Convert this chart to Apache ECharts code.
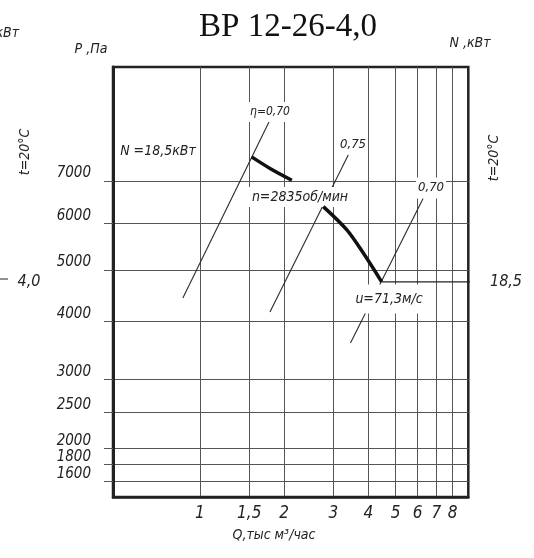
<!DOCTYPE html>
<html><head><meta charset="utf-8">
<script src="https://cdn.jsdelivr.net/npm/echarts@6/dist/echarts.min.js"></script>
<style>html,body{margin:0;padding:0;background:#fff}#c{width:534px;height:558px}</style>
</head><body><div id="c"></div>
<script>
// ---- data (Q in thousand m3/h, P in Pa) ----
const Q_TICKS = [1, 1.5, 2, 3, 4, 5, 6, 7, 8];
const Q_LABELS = ['1', '1,5', '2', '3', '4', '5', '6', '7', '8'];
const P_TICKS = [1600, 1800, 2000, 2500, 3000, 4000, 5000, 6000, 7000];
const Q_RANGE = [0.489, 9.1];
const P_RANGE = [1421, 10050];
// fan curve n=2835 rpm (two segments, gap for label)
const CURVE1_Q = [1.53, 1.78, 2.13];
const CURVE1_P = [7600, 7310, 7020];
const CURVE2_Q = [2.76, 3.35, 3.84, 4.46];
const CURVE2_P = [6390, 5860, 5350, 4760];
// efficiency lines
const ETA070L_Q = [0.869, 1.779], ETA070L_P = [4441, 8562];
const ETA075_Q = [1.779, 3.389], ETA075_P = [4174, 7646];
const ETA070R_Q = [3.451, 6.28], ETA070R_P = [3611, 6584];
// power reference line N = 18,5 kW
const NLINE_Q = [4.46, 9.86], NLINE_P = [4760, 4760];

const FONT = "'Liberation Sans Narrow','DejaVu Sans Condensed','Liberation Sans',sans-serif";
const sq = v => Math.sqrt(v);
const pts = (qs, ps) => qs.map((q, i) => [q, sq(ps[i])]);

const chart = echarts.init(document.getElementById('c'), null, {renderer: 'canvas'});

function txt(text, x, y, size, styleExtra, elExtra) {
  const style = Object.assign({
    text: text, fill: '#222', align: 'center', verticalAlign: 'middle',
    font: 'italic ' + size + 'px ' + FONT
  }, styleExtra || {});
  return Object.assign({type: 'text', x: x, y: y, z: 100, silent: true, style: style}, elExtra || {});
}
function box(text, x, y, size, pad) {
  return txt(text, x, y, size, {backgroundColor: '#fff', padding: pad});
}

const thin = {color: '#2a2a2a', width: 1.1};
const lineSeries = (data, style, clip, smooth, z) => ({
  type: 'line', data: data, symbol: 'none', silent: true, animation: false,
  clip: clip !== false, smooth: smooth || false, lineStyle: style, z: z || 3
});

chart.setOption({
  animation: false,
  backgroundColor: '#fff',
  grid: {left: 113, right: 65.7, top: 67, bottom: 61, show: true, borderColor: '#222', borderWidth: 2.5, containLabel: false},
  xAxis: {
    type: 'log', logBase: 10, min: Q_RANGE[0], max: Q_RANGE[1],
    axisLine: {show: true, lineStyle: {color: '#222', width: 2.5}},
    axisTick: {show: false, customValues: Q_TICKS},
    axisLabel: {
      customValues: Q_TICKS, margin: 8, color: '#222', hideOverlap: false,
      fontSize: 17, fontStyle: 'italic', fontFamily: FONT,
      formatter: v => { const i = Q_TICKS.findIndex(t => Math.abs(t - v) < 1e-6); return i >= 0 ? Q_LABELS[i] : ''; }
    },
    splitLine: {show: true, lineStyle: {color: '#555', width: 1}},
    minorSplitLine: {show: false}
  },
  yAxis: {
    type: 'value', min: sq(P_RANGE[0]), max: sq(P_RANGE[1]),
    axisLine: {show: true, lineStyle: {color: '#222', width: 3}},
    axisTick: {show: true, length: 9, customValues: P_TICKS.map(sq), lineStyle: {color: '#555', width: 1}},
    axisLabel: {
      customValues: P_TICKS.map(sq), margin: 22, color: '#222',
      hideOverlap: false, showMinLabel: true, showMaxLabel: true,
      fontSize: 15, fontStyle: 'italic', fontFamily: FONT, verticalAlign: 'bottom', lineHeight: 15,
      formatter: v => String(Math.round(v * v))
    },
    splitLine: {show: true, lineStyle: {color: '#555', width: 1}}
  },
  series: [
    lineSeries(pts(ETA070L_Q, ETA070L_P), thin),
    lineSeries(pts(ETA075_Q, ETA075_P), thin),
    lineSeries(pts(ETA070R_Q, ETA070R_P), thin),
    lineSeries(pts(NLINE_Q, NLINE_P), {color: '#222', width: 1.2}, false),
    lineSeries(pts(CURVE1_Q, CURVE1_P), {color: '#111', width: 3.5}, true, 0.3, 110),
    lineSeries(pts(CURVE2_Q, CURVE2_P), {color: '#111', width: 3.5}, true, 0.3, 110)
  ],
  graphic: {elements: [
    {type: 'text', x: 288, y: 27, z: 100, silent: true,
     style: {text: 'ВР 12-26-4,0', fill: '#111', align: 'center', verticalAlign: 'middle', font: "33px 'Liberation Serif','Times New Roman',serif"}},
    txt('P ,Па', 91, 49, 14),
    txt('N ,кВт', 470, 43, 14),
    txt('N ,кВт', 19, 33, 14, {align: 'right'}),
    txt('t=20°C', 25, 152, 14, null, {rotation: Math.PI / 2}),
    txt('t=20°C', 494, 158, 14, null, {rotation: Math.PI / 2}),
    txt('N =18,5кВт', 158, 151, 14),
    box('η=0,70', 270, 112, 12, [4, 2, 4, 2]),
    box('0,75', 353, 145, 13, [2, 2, 2, 2]),
    box('n=2835об/мин', 300, 197, 14, [4, 3, 2, 3]),
    box('0,70', 431, 188, 13, [4, 2, 4, 2]),
    box('u=71,3м/с', 389, 299, 14, [8, 5, 7, 5]),
    txt('18,5', 506, 282, 16),
    txt('4,0', 29, 282, 16),
    {type: 'line', z: 100, silent: true, shape: {x1: 0, y1: 279, x2: 8, y2: 279}, style: {stroke: '#222', lineWidth: 1}},
    txt('Q,тыс м³/час', 274, 535, 14)
  ]}
});
</script></body></html>
